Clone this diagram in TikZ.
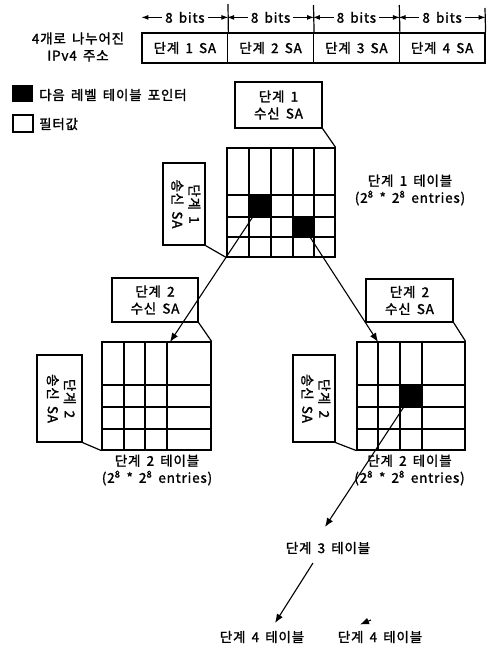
\documentclass[tikz,border=0pt]{standalone}
\usepackage{fontspec}
\setmainfont{Noto Sans CJK KR}[LetterSpace=6,WordSpace=1.6,FakeBold=1.5]
\usetikzlibrary{arrows.meta}
\begin{document}
\begin{tikzpicture}[x=1pt,y=-1pt,
  lbl/.style={font=\fontsize{13.5}{17}\selectfont, align=center, inner sep=0pt},
  box/.style={draw, line width=1.2pt, inner sep=0pt},
  gl/.style={line width=1.2pt},
  cell/.style={fill=black, inner sep=0pt},
  arr/.style={line width=1.1pt, -{Latex[length=9pt,width=7pt]}},
  barr/.style={line width=1pt, -{Latex[length=7pt,width=5pt]}},
  seg/.style={box, minimum width=85.75pt, minimum height=30pt, font=\fontsize{13.5}{16}\selectfont},
  rot/.style={box, font=\fontsize{13.5}{16}\selectfont}
]
\useasboundingbox (0,0) rectangle (491,648);

% ---- top: address split ----
\node[lbl] (addr) at (78,47) {4개로 나누어진\\IPv4 주소};
\node[seg] (seg1) at (184.9,48) {단계 1 SA};
\node[seg] (seg2) at (270.6,48) {단계 2 SA};
\node[seg] (seg3) at (356.4,48) {단계 3 SA};
\node[seg] (seg4) at (442.1,48) {단계 4 SA};
\coordinate (tk1) at (228,4);
\coordinate (tk2) at (313.5,5);
\coordinate (tk3) at (399.3,5);
\coordinate (tk4) at (485,8);
\draw[gl] (tk1) -- (seg1.north east);
\draw[gl] (tk2) -- (seg2.north east);
\draw[gl] (tk3) -- (seg3.north east);
\draw[gl] (tk4) -- (seg4.north east);
\foreach \i in {1,2,3,4}{
  \node[lbl, inner xsep=3pt] (bits\i) at ([yshift=15pt]seg\i.north) {8 bits};
  \draw[barr] (bits\i.west) -- (bits\i -| seg\i.west);
  \draw[barr] (bits\i.east) -- (bits\i -| seg\i.east);
}

% ---- legend ----
\node[cell, minimum width=21pt, minimum height=17pt] (lgb) at (22.5,93.5) {};
\node[lbl, anchor=west] (lgbt) at (39,95) {다음 레벨 테이블 포인터};
\node[box, minimum width=20pt, minimum height=17pt] (lgw) at (23,123.5) {};
\node[lbl, anchor=west] (lgwt) at (39,124) {필터값};

% ---- stage 1 table ----
\node[box, minimum width=108pt, minimum height=109pt] (g1) at (281,202.5) {};
\foreach \x in {249,271,293,314} \draw[gl] (\x,148) -- (\x,257);
\foreach \y in {195,217,237} \draw[gl] (227,\y) -- (335,\y);
\node[cell, minimum width=22pt, minimum height=22pt] (p1) at (260,206) {};
\node[cell, minimum width=21pt, minimum height=20pt] (p2) at (303.5,227) {};
\node[box, lbl, minimum width=87pt, minimum height=46pt] (r1) at (278.5,105) {단계 1\\수신 SA};
\node[rot, minimum width=42pt, minimum height=82pt] (s1) at (184,204)
  {\rotatebox{-90}{\begin{tabular}{@{}c@{}}단계 1\\[1pt]송신 SA\end{tabular}}};
\draw[gl] (r1.south east) -- (g1.north east);
\draw[gl] (s1.south east) -- (g1.south west);
\node[lbl] (t1) at (410,190) {단계 1 테이블\\(2\textsuperscript{8} * 2\textsuperscript{8} entries)};

% ---- stage 2 left ----
\node[box, minimum width=109pt, minimum height=108pt] (g2l) at (156.5,396) {};
\foreach \x in {124,145,167} \draw[gl] (\x,342) -- (\x,450);
\foreach \y in {385,407,429} \draw[gl] (102,\y) -- (211,\y);
\node[box, lbl, minimum width=86pt, minimum height=44pt] (r2l) at (155,300) {단계 2\\수신 SA};
\node[rot, minimum width=45pt, minimum height=87pt] (s2l) at (59.5,398.5)
  {\rotatebox{-90}{\begin{tabular}{@{}c@{}}단계 2\\[1pt]송신 SA\end{tabular}}};
\draw[gl] (r2l.south east) -- (g2l.north east);
\draw[gl] (s2l.south east) -- (g2l.south west);
\node[lbl] (t2l) at (157,470) {단계 2 테이블\\(2\textsuperscript{8} * 2\textsuperscript{8} entries)};

% ---- stage 2 right ----
\node[box, minimum width=108pt, minimum height=108pt] (g2r) at (411,396) {};
\foreach \x in {378,400,422} \draw[gl] (\x,342) -- (\x,450);
\foreach \y in {385,407,429} \draw[gl] (357,\y) -- (465,\y);
\node[cell, minimum width=22pt, minimum height=22pt] (p3) at (411,396) {};
\node[box, lbl, minimum width=87pt, minimum height=43pt] (r2r) at (409.5,300.5) {단계 2\\수신 SA};
\node[rot, minimum width=42pt, minimum height=87pt] (s2r) at (314,398.5)
  {\rotatebox{-90}{\begin{tabular}{@{}c@{}}단계 2\\[1pt]송신 SA\end{tabular}}};
\draw[gl] (r2r.south east) -- (g2r.north east);
\draw[gl] (s2r.south east) -- (g2r.south west);
\node[lbl] (t2r) at (409.5,470) {단계 2 테이블\\(2\textsuperscript{8} * 2\textsuperscript{8} entries)};

% ---- lower stages ----
\node[lbl] (t3) at (328,548) {단계 3 테이블};
\node[lbl] (t4a) at (262,637) {단계 4 테이블};
\node[lbl] (t4b) at (380,637) {단계 4 테이블};

% ---- pointers ----
\coordinate (e1) at (170,342);
\coordinate (e2) at (378,342);
\coordinate (e3) at (325,527);
\coordinate (s4) at (313,563);
\coordinate (e4) at (275,623);
\coordinate (s5) at (371,620);
\coordinate (e5) at (360,624.5);
\draw[arr] (p1.center) -- (e1);
\draw[arr] (p2.center) -- (e2);
\draw[arr] (p3.center) -- (e3);
\draw[arr] (s4) -- (e4);
\draw[arr] (s5) -- (e5);
\end{tikzpicture}
\end{document}
